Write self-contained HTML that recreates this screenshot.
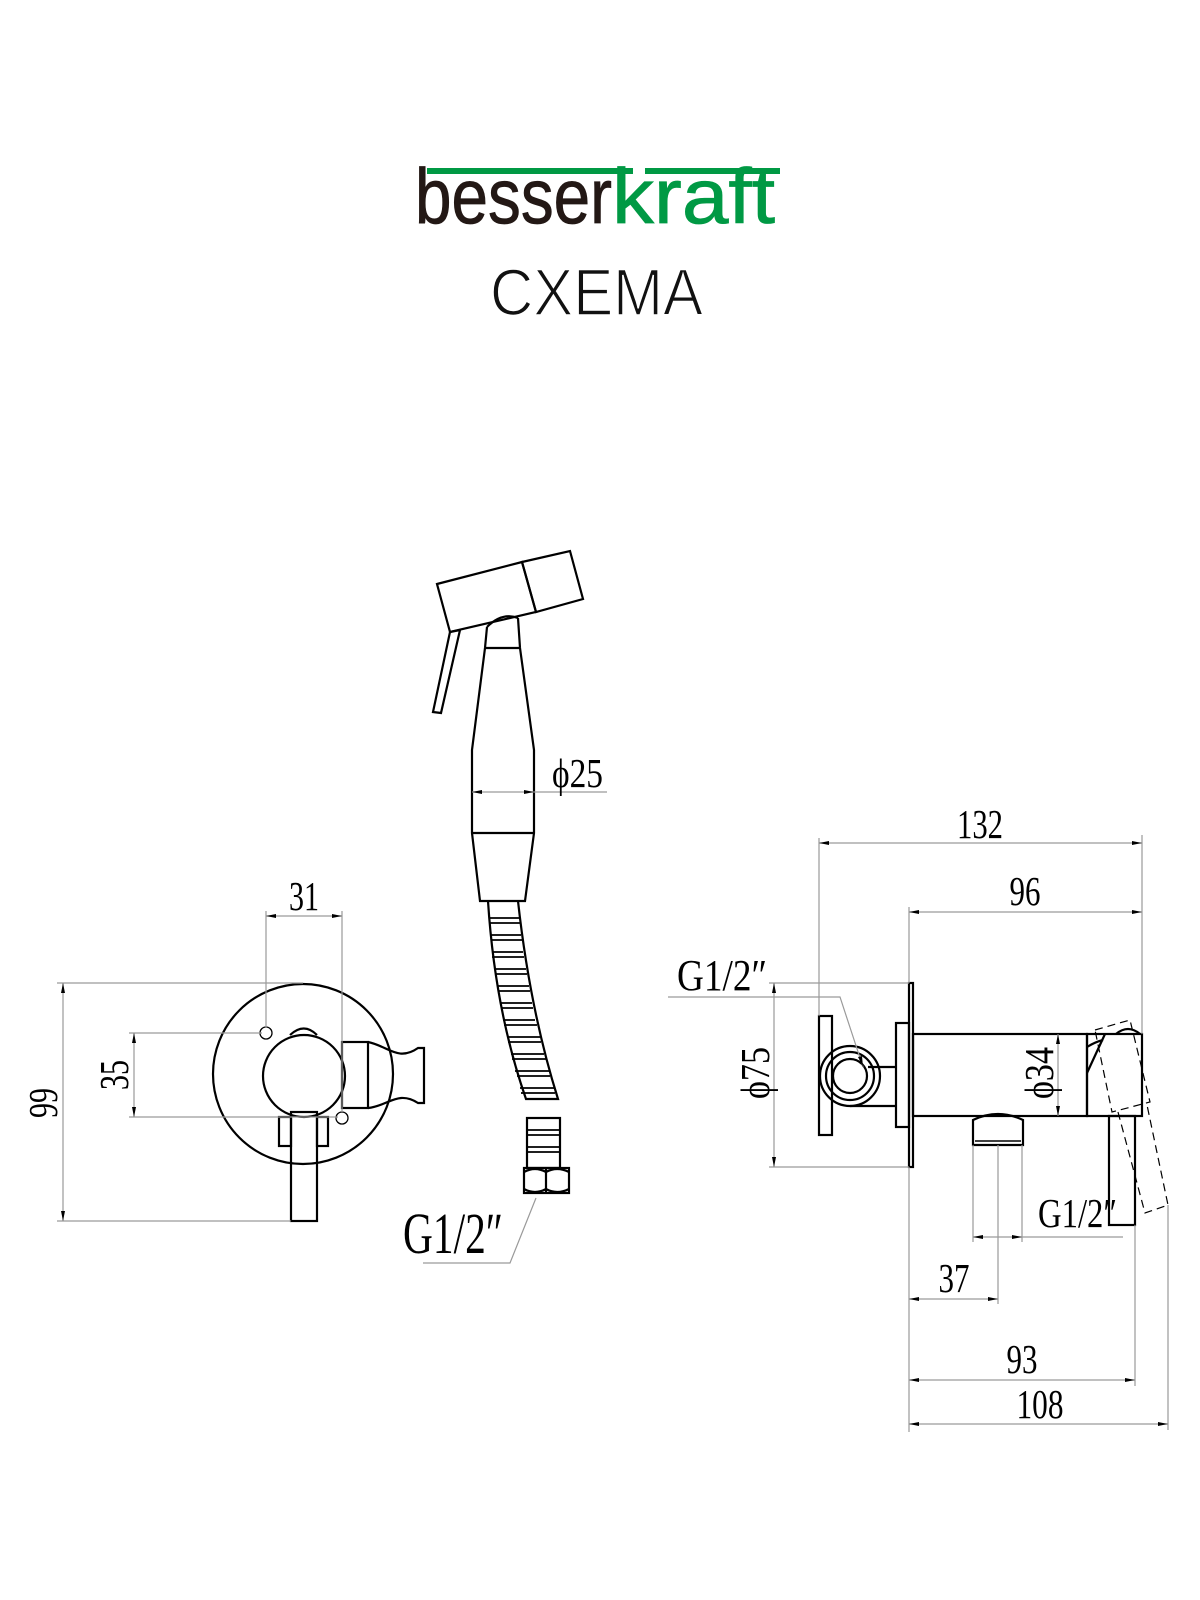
<!DOCTYPE html>
<html><head><meta charset="utf-8"><style>
html,body{margin:0;padding:0;background:#fff;}
svg{display:block;}
.o{fill:none;stroke:#000;stroke-width:2.2;}
.d{fill:none;stroke:#9a9a9a;stroke-width:1.2;}
.t{font-family:"Liberation Serif",serif;fill:#000;}
</style></head><body>
<svg width="1200" height="1600" viewBox="0 0 1200 1600" xmlns="http://www.w3.org/2000/svg">
<defs>
<marker id="a" viewBox="0 0 10 4" refX="10" refY="2" markerWidth="10" markerHeight="4" markerUnits="userSpaceOnUse" orient="auto-start-reverse"><path d="M0,0 L10,2 L0,4 z" fill="#000"/></marker>
</defs>

<!-- Logo -->
<rect x="427" y="168" width="206" height="6" fill="#009944"/>
<rect x="645" y="168" width="135" height="6" fill="#009944"/>
<text x="415" y="223" font-family="Liberation Sans,sans-serif" font-size="78" fill="#231815" stroke="#231815" stroke-width="0.8" textLength="197" lengthAdjust="spacingAndGlyphs">besser</text>
<text x="612" y="223" font-family="Liberation Sans,sans-serif" font-size="78" fill="#009944" stroke="#009944" stroke-width="0.8" textLength="163" lengthAdjust="spacingAndGlyphs">kraft</text>
<text x="490" y="315" font-family="Liberation Sans,sans-serif" font-size="66" fill="#111" stroke="#fff" stroke-width="1.6" textLength="213" lengthAdjust="spacingAndGlyphs">CXEMA</text>

<!-- LEFT VIEW -->
<circle class="o" cx="303" cy="1074" r="90"/>
<rect x="342" y="1042" width="26" height="66" class="o" fill="#fff"/>
<path class="o" d="M368,1042 C388,1046 398,1062 418,1048 L424,1048 L424,1103 L418,1103 C398,1090 388,1106 368,1108"/>
<path class="o" fill="#fff" d="M290,1035 Q304,1022 317,1035"/>
<rect x="279" y="1117" width="12" height="29" class="o" fill="#fff"/>
<rect x="317" y="1117" width="11" height="29" class="o" fill="#fff"/>
<rect x="291" y="1112" width="26" height="109" class="o" fill="#fff"/>
<circle class="o" cx="304" cy="1076" r="41" fill="#fff"/>
<circle cx="266" cy="1033" r="6" fill="none" stroke="#000" stroke-width="1.3"/>
<circle cx="342" cy="1118" r="6" fill="none" stroke="#000" stroke-width="1.3"/>
<!-- dims left -->
<line class="d" x1="57" y1="983" x2="303" y2="983"/>
<line class="d" x1="57" y1="1221" x2="291" y2="1221"/>
<line class="d" x1="63" y1="983" x2="63" y2="1221" marker-start="url(#a)" marker-end="url(#a)"/>
<text class="t" font-size="41" transform="translate(57,1103) rotate(-90)" text-anchor="middle" textLength="30" lengthAdjust="spacingAndGlyphs">99</text>
<line class="d" x1="129" y1="1033" x2="262" y2="1033"/>
<line class="d" x1="129" y1="1117" x2="338" y2="1117"/>
<line class="d" x1="134" y1="1033" x2="134" y2="1117" marker-start="url(#a)" marker-end="url(#a)"/>
<text class="t" font-size="41" transform="translate(128,1075) rotate(-90)" text-anchor="middle" textLength="30" lengthAdjust="spacingAndGlyphs">35</text>
<line class="d" x1="266" y1="911" x2="266" y2="1028"/>
<line class="d" x1="342" y1="911" x2="342" y2="1112"/>
<line class="d" x1="266" y1="916" x2="342" y2="916" marker-start="url(#a)" marker-end="url(#a)"/>
<text class="t" font-size="41" x="304" y="910" text-anchor="middle" textLength="30" lengthAdjust="spacingAndGlyphs">31</text>

<!-- HAND SHOWER -->
<polygon class="o" points="437,584 522,562 536,612 450,632"/>
<polygon class="o" points="522,562 570,551 583,599 536,612"/>
<path class="o" d="M487,627 Q502,612 518,618"/>
<polygon class="o" points="450,632 460,630 441,713 433,712" fill="#fff"/>
<path class="o" d="M487,627 L485,648 L472,750 L472,833 L480,901 L525,901 L534,833 L534,750 L520,648 L518,618"/>
<line class="o" x1="485" y1="648" x2="520" y2="648"/>
<line class="o" x1="472" y1="833" x2="534" y2="833"/>
<line class="d" x1="472" y1="792" x2="607" y2="792"/>
<path d="M472,792 l10,-2 v4z M534,792 l-10,-2 v4z" fill="#000"/>
<text class="t" font-size="41" x="552" y="787" textLength="51" lengthAdjust="spacingAndGlyphs">ϕ25</text>
<!-- hose -->
<path class="o" d="M488,901 Q495,1010 526,1099 L558,1099 Q530,1010 518,901"/>
<g stroke="#000" stroke-width="1.8">
<line x1="489" y1="918" x2="519" y2="918"/><line x1="490" y1="923" x2="520" y2="923"/>
<line x1="490" y1="935" x2="521" y2="935"/><line x1="491" y1="940" x2="522" y2="940"/>
<line x1="492" y1="952" x2="523" y2="952"/><line x1="492" y1="957" x2="524" y2="957"/>
<line x1="494" y1="969" x2="526" y2="969"/><line x1="495" y1="974" x2="527" y2="974"/>
<line x1="497" y1="986" x2="529" y2="986"/><line x1="498" y1="991" x2="530" y2="991"/>
<line x1="500" y1="1003" x2="532" y2="1003"/><line x1="501" y1="1008" x2="533" y2="1008"/>
<line x1="503" y1="1020" x2="535" y2="1020"/><line x1="504" y1="1025" x2="537" y2="1025"/>
<line x1="507" y1="1037" x2="540" y2="1037"/><line x1="508" y1="1042" x2="541" y2="1042"/>
<line x1="511" y1="1054" x2="544" y2="1054"/><line x1="512" y1="1059" x2="546" y2="1059"/>
<line x1="515" y1="1071" x2="549" y2="1071"/><line x1="517" y1="1076" x2="550" y2="1076"/>
<line x1="520" y1="1088" x2="554" y2="1088"/><line x1="521" y1="1093" x2="555" y2="1093"/>
</g>
<rect x="527" y="1118" width="33" height="50" class="o"/>
<g stroke="#000" stroke-width="1.8">
<line x1="527" y1="1130" x2="560" y2="1130"/><line x1="527" y1="1135" x2="560" y2="1135"/>
<line x1="527" y1="1147" x2="560" y2="1147"/><line x1="527" y1="1152" x2="560" y2="1152"/>
</g>
<rect x="524" y="1168" width="45" height="25" class="o"/>
<path class="o" d="M546,1168 v25 M524,1172 q11,-6 22,0 q11,-6 23,0 M524,1189 q11,6 22,0 q11,6 23,0" stroke-width="1.6"/>
<polyline class="d" points="423,1263 510,1263 536,1198"/>
<text class="t" font-size="58" x="403" y="1253" textLength="100" lengthAdjust="spacingAndGlyphs">G1/2″</text>

<!-- RIGHT VIEW -->
<rect x="909" y="983" width="4" height="184" class="o"/>
<rect x="896" y="1023" width="13" height="104" class="o"/>
<rect x="913" y="1034" width="174" height="82" class="o"/>
<rect x="1087" y="1034" width="55" height="82" class="o"/>
<polyline class="o" points="1105,1034 1087,1073"/>
<path class="o" d="M1116,1034 Q1128,1024 1140,1034" stroke-width="1.6"/>
<path class="o" d="M1087,1047 Q1095,1042 1103,1040" stroke-width="1.4"/>
<rect x="1109" y="1116" width="26" height="109" class="o"/>
<path class="o" d="M973,1145 L973,1120 Q998,1108 1023,1120 L1023,1145 Z"/>
<line x1="975" y1="1141" x2="1021" y2="1141" stroke="#000" stroke-width="1.4"/>
<polygon points="1095,1030 1130,1020 1150,1102 1112,1112" fill="none" stroke="#000" stroke-width="1.2" stroke-dasharray="8,5"/>
<polyline points="1118,1112 1145,1213 1168,1205 1147,1105" fill="none" stroke="#000" stroke-width="1.2" stroke-dasharray="8,5"/>
<!-- holder -->
<rect x="819" y="1016" width="13" height="119" class="o" fill="#fff"/>
<line class="o" x1="868" y1="1067" x2="896" y2="1067"/>
<line class="o" x1="850" y1="1106" x2="896" y2="1106"/>
<circle class="o" cx="850" cy="1076" r="30" fill="#fff"/>
<circle class="o" cx="850" cy="1076" r="24"/>
<circle class="o" cx="850" cy="1076" r="17"/>
<!-- G1/2 top -->
<polyline class="d" points="668,997 840,997 863,1067" stroke="#555"/>
<path d="M863,1067 l-5,-10 l4,-1z" fill="#000"/>
<text class="t" font-size="44" x="677" y="990" textLength="90" lengthAdjust="spacingAndGlyphs">G1/2″</text>
<!-- phi75 -->
<line class="d" x1="769" y1="983" x2="909" y2="983"/>
<line class="d" x1="769" y1="1167" x2="909" y2="1167"/>
<line class="d" x1="774" y1="983" x2="774" y2="1167" marker-start="url(#a)" marker-end="url(#a)"/>
<text class="t" font-size="41" transform="translate(769,1073) rotate(-90)" text-anchor="middle" textLength="52" lengthAdjust="spacingAndGlyphs">ϕ75</text>
<!-- phi34 -->
<line class="d" x1="1058" y1="1034" x2="1058" y2="1116" marker-start="url(#a)" marker-end="url(#a)"/>
<text class="t" font-size="41" transform="translate(1053,1073) rotate(-90)" text-anchor="middle" textLength="52" lengthAdjust="spacingAndGlyphs">ϕ34</text>
<!-- top dims -->
<line class="d" x1="819" y1="838" x2="819" y2="1016"/>
<line class="d" x1="909" y1="907" x2="909" y2="983"/>
<line class="d" x1="1142" y1="835" x2="1142" y2="1034"/>
<line class="d" x1="819" y1="843" x2="1142" y2="843" marker-start="url(#a)" marker-end="url(#a)"/>
<text class="t" font-size="41" x="980" y="838" text-anchor="middle" textLength="46" lengthAdjust="spacingAndGlyphs">132</text>
<line class="d" x1="909" y1="912" x2="1142" y2="912" marker-start="url(#a)" marker-end="url(#a)"/>
<text class="t" font-size="41" x="1025" y="905" text-anchor="middle" textLength="31" lengthAdjust="spacingAndGlyphs">96</text>
<!-- bottom dims -->
<line class="d" x1="909" y1="1167" x2="909" y2="1432"/>
<line class="d" x1="973" y1="1145" x2="973" y2="1242"/>
<line class="d" x1="1022" y1="1145" x2="1022" y2="1242"/>
<line class="d" x1="998" y1="1145" x2="998" y2="1304"/>
<line class="d" x1="1135" y1="1225" x2="1135" y2="1386"/>
<line class="d" x1="1168" y1="1205" x2="1168" y2="1430"/>
<line class="d" x1="973" y1="1237" x2="1123" y2="1237"/>
<path d="M973,1237 l10,-2 v4z M1022,1237 l-10,-2 v4z" fill="#000"/>
<text class="t" font-size="41" x="1038" y="1227" textLength="79" lengthAdjust="spacingAndGlyphs">G1/2″</text>
<line class="d" x1="909" y1="1299" x2="998" y2="1299" marker-start="url(#a)" marker-end="url(#a)"/>
<text class="t" font-size="41" x="954" y="1292" text-anchor="middle" textLength="31" lengthAdjust="spacingAndGlyphs">37</text>
<line class="d" x1="909" y1="1380" x2="1135" y2="1380" marker-start="url(#a)" marker-end="url(#a)"/>
<text class="t" font-size="41" x="1022" y="1373" text-anchor="middle" textLength="31" lengthAdjust="spacingAndGlyphs">93</text>
<line class="d" x1="909" y1="1424" x2="1168" y2="1424" marker-start="url(#a)" marker-end="url(#a)"/>
<text class="t" font-size="41" x="1040" y="1418" text-anchor="middle" textLength="47" lengthAdjust="spacingAndGlyphs">108</text>
</svg>
</body></html>
